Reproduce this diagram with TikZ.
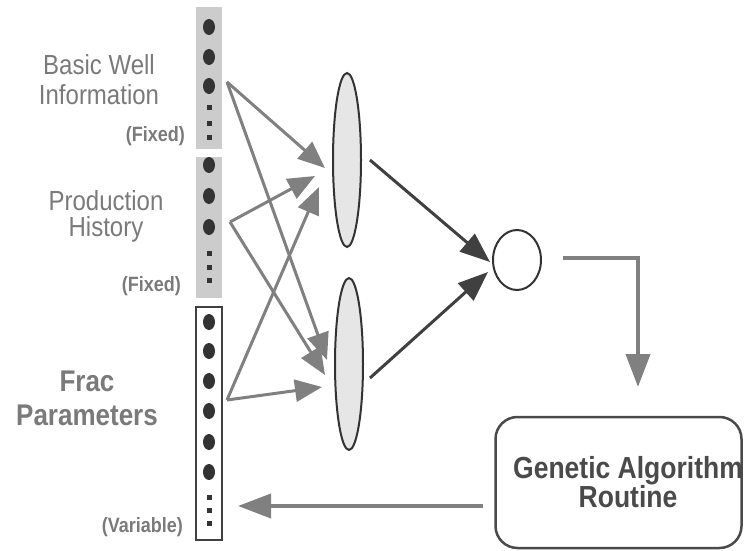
\documentclass[tikz,border=0pt]{standalone}
\usepackage{fontspec}
\usepackage{graphicx}
\setmainfont{Liberation Sans}
\usetikzlibrary{shapes.geometric,arrows.meta}
\definecolor{lblc}{HTML}{7A7A7A}
\definecolor{gatext}{HTML}{4A4A4A}
\definecolor{dotc}{HTML}{333333}
\definecolor{boxfill}{HTML}{CCCCCC}
\definecolor{arrg}{HTML}{808080}
\definecolor{arrd}{HTML}{404040}
\definecolor{ellfill}{HTML}{E6E6E6}
\newcommand{\talltxt}[1]{\scalebox{1}[1.15]{#1}}
\begin{document}
\begin{tikzpicture}[x=1pt,y=-1pt,
  dotn/.style={ellipse, fill=dotc, minimum width=12pt, minimum height=16pt, inner sep=0pt},
  sqn/.style={rectangle, fill=dotc, minimum size=5pt, inner sep=0pt},
  garrow/.style={draw=arrg, line width=3pt, -{Triangle[length=27pt,width=22pt]}},
  darrow/.style={draw=arrd, line width=3pt, -{Triangle[length=30pt,width=23pt]}},
  loopar/.style={draw=arrg, line width=4pt, -{Triangle[length=33pt,width=24pt]}},
  lbl/.style={text=lblc, inner sep=0pt, align=center},
  neuron/.style={ellipse, draw=dotc, line width=2pt, fill=ellfill, minimum width=28pt, inner sep=0pt}
]
\useasboundingbox (0,0) rectangle (745,551);
% input columns
\node[fill=boxfill, minimum width=26pt, minimum height=142pt, inner sep=0pt] (col1) at (209,78) {};
\node[fill=boxfill, minimum width=26pt, minimum height=141pt, inner sep=0pt] (col2) at (209,227.5) {};
\node[draw=arrd, line width=1.3pt, fill=white, minimum width=26pt, minimum height=233pt, inner sep=0pt] (col3) at (209,423.5) {};
% dots
\foreach \y [count=\i] in {27,57,86} \node[dotn] (a\i) at (209,\y) {};
\foreach \y [count=\i] in {108,123,137} \node[sqn] (as\i) at (209,\y) {};
\foreach \y [count=\i] in {165,196,227} \node[dotn] (b\i) at (209,\y) {};
\foreach \y [count=\i] in {253,267,280} \node[sqn] (bs\i) at (209,\y) {};
\foreach \y [count=\i] in {322,351,381,411,442,472} \node[dotn] (c\i) at (209,\y) {};
\foreach \y [count=\i] in {497,510,523} \node[sqn] (cs\i) at (209,\y) {};
% labels
\node[lbl, font=\fontsize{24}{30}\selectfont, anchor=north] (lbw) at (99,54) {\talltxt{Basic Well}\\\talltxt{Information}};
\node[lbl, font=\fontsize{24}{26}\selectfont, anchor=north] (lph) at (106,190) {\talltxt{Production}\\\talltxt{History}};
\node[lbl, font=\bfseries\fontsize{26}{34}\selectfont, anchor=north] (lfp) at (87,371) {\talltxt{Frac}\\\talltxt{Parameters}};
\node[lbl, font=\bfseries\fontsize{18}{20}\selectfont, anchor=base east] (lfx1) at (185,142) {\talltxt{(Fixed)}};
\node[lbl, font=\bfseries\fontsize{18}{20}\selectfont, anchor=base east] (lfx2) at (181,291) {\talltxt{(Fixed)}};
\node[lbl, font=\bfseries\fontsize{18}{20}\selectfont, anchor=base east] (lvar) at (183,532) {\talltxt{(Variable)}};
% hidden neurons and output
\node[neuron, minimum height=174pt] (etop) at (347,160) {};
\node[neuron, minimum height=172pt] (ebot) at (349,364) {};
\node[ellipse, draw=dotc, line width=2pt, fill=white, minimum width=48pt, minimum height=60pt, inner sep=0pt] (outn) at (517,260) {};
% GA box
\node[draw=gatext, line width=2.5pt, rounded corners=22pt, minimum width=246pt, minimum height=131pt, inner sep=0pt] (ga) at (618.5,482.5) {};
\node[text=gatext, font=\bfseries\fontsize{26.5}{27}\selectfont, align=center, inner sep=0pt, anchor=north] (gatxt) at (628,456) {\talltxt{Genetic Algorithm}\\\talltxt{Routine}};
% arrow end coordinates
\coordinate (s1) at (227,82);
\coordinate (s2) at (230,222);
\coordinate (s3) at (227,400);
\coordinate (t1) at (325,168);
\coordinate (t2) at (315,176);
\coordinate (t3) at (319,187);
\coordinate (u1) at (327,360);
\coordinate (u2) at (325,375);
\coordinate (u3) at (322,387);
\coordinate (h1) at (370,160);
\coordinate (h2) at (370,378);
\coordinate (o1) at (490,262);
\coordinate (o2) at (488,272);
\coordinate (p0) at (563,258);
\coordinate (p1) at (638,258);
\coordinate (p2) at (638,387);
\coordinate (q0) at (483,506);
\coordinate (q1) at (238,506);
% gray input arrows
\draw[garrow] (s1) -- (t1);
\draw[garrow] (s1) -- (u1);
\draw[garrow] (s2) -- (t2);
\draw[garrow] (s2) -- (u2);
\draw[garrow] (s3) -- (t3);
\draw[garrow] (s3) -- (u3);
% dark arrows
\draw[darrow] (h1) -- (o1);
\draw[darrow] (h2) -- (o2);
% loop arrows
\draw[loopar] (p0) -- (p1) -- (p2);
\draw[loopar] (q0) -- (q1);
\end{tikzpicture}
\end{document}
